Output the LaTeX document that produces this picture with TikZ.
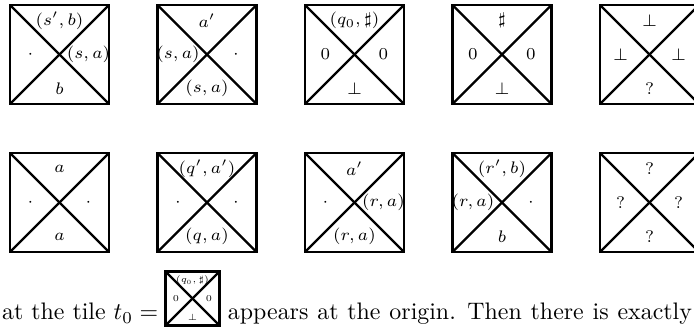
\documentclass[tikz,border=0pt]{standalone}
\usepackage{fix-cm}
\newcommand\mytile[7]{%
  \node[bigtile] (#1) at (#2,#3) {};
  \draw[diag] (#1.north west) -- (#1.south east);
  \draw[diag] (#1.north east) -- (#1.south west);
  \path (#1.center) ++(0,-34) node[biglbl] (#1-t) {$#4$};
  \path (#1.center) ++(-29,0) node[biglbl] (#1-l) {$#5$};
  \path (#1.center) ++(29,0) node[biglbl] (#1-r) {$#6$};
  \path (#1.center) ++(0,34) node[biglbl] (#1-b) {$#7$};
}
\begin{document}
\begin{tikzpicture}[x=0.4186pt,y=-0.4186pt,
  bigtile/.style={draw, line width=1pt, minimum width=41.44pt, minimum height=41.44pt, inner sep=0pt, outer sep=0pt},
  smalltile/.style={draw, line width=0.9pt, minimum width=22.6pt, minimum height=22.6pt, inner sep=0pt, outer sep=0pt},
  diag/.style={line width=0.9pt},
  biglbl/.style={inner sep=0pt, font=\fontsize{7}{8}\selectfont},
  smalllbl/.style={inner sep=0pt, font=\fontsize{3.8}{4.5}\selectfont},
  bodytext/.style={inner sep=0pt, anchor=base west, font=\fontsize{10}{12}\selectfont}]
\useasboundingbox (0,0) rectangle (694,327);
% row 1
\mytile{t1}{59.5}{54.5}{(s',b)}{\cdot}{(s,a)}{b}
\mytile{t2}{207}{54.5}{a'}{(s,a)}{\cdot}{(s,a)}
\mytile{t3}{354.5}{54.5}{(q_0,\sharp)}{0}{0}{\bot}
\mytile{t4}{502}{54.5}{\sharp}{0}{0}{\bot}
\mytile{t5}{649.5}{54.5}{\bot}{\bot}{\bot}{?}
% row 2
\mytile{t6}{59.5}{202.5}{a}{\cdot}{\cdot}{a}
\mytile{t7}{207}{202.5}{(q',a')}{\cdot}{\cdot}{(q,a)}
\mytile{t8}{354.5}{202.5}{a'}{\cdot}{(r,a)}{(r,a)}
\mytile{t9}{502}{202.5}{(r',b)}{(r,a)}{\cdot}{b}
\mytile{t10}{649.5}{202.5}{?}{?}{?}{?}
% text line with inline tile
\node[bodytext] (txa) at (1.7,319.5) {at the tile $t_0 =$};
\node[smalltile] (t0) at (192.5,298.5) {};
\draw[diag] (t0.north west) -- (t0.south east);
\draw[diag] (t0.north east) -- (t0.south west);
\path (t0.center) ++(0,-18.5) node[smalllbl] (t0-t) {$(q_0,\sharp)$};
\path (t0.center) ++(-16.5,0) node[smalllbl] (t0-l) {$0$};
\path (t0.center) ++(16.5,0) node[smalllbl] (t0-r) {$0$};
\path (t0.center) ++(0,19) node[smalllbl] (t0-b) {$\bot$};
\node[bodytext] (txb) at (227.5,319.5) {\hbox to 194.2pt{\spaceskip=3.33pt plus 3pt\xspaceskip=4.44pt plus 3pt\relax appears at the origin. Then there is exactly}};
\end{tikzpicture}
\end{document}
